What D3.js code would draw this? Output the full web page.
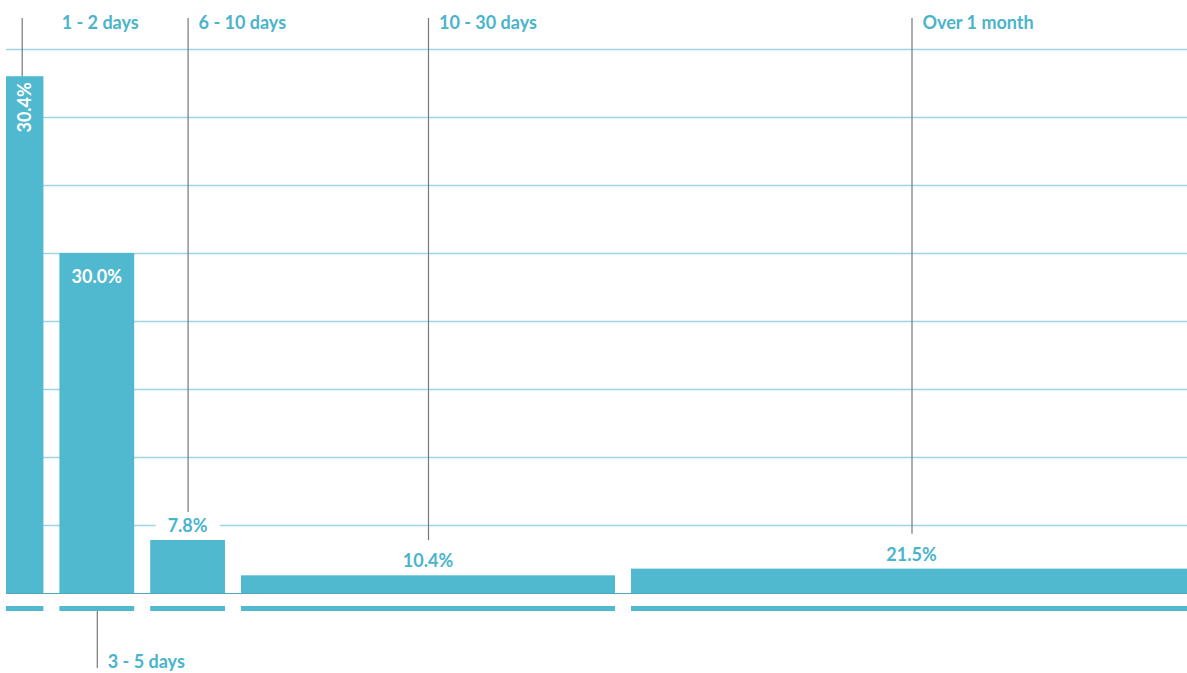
<!DOCTYPE html>
<html>
<head>
<meta charset="utf-8">
<script src="https://cdn.jsdelivr.net/npm/d3@7"></script>
<style>
  html, body { margin: 0; padding: 0; background: #fff; }
  svg { display: block; font-family: Lato, "Open Sans", sans-serif; }
</style>
</head>
<body>
<svg id="chart" width="1187" height="673"></svg>
<script>
// ---- data ----
const categories = ["1 - 2 days", "3 - 5 days", "6 - 10 days", "10 - 30 days", "Over 1 month"];
const shares = [30.4, 30.0, 7.8, 10.4, 21.5];          // % of total
const binDays = [2, 3, 5, 20, 30];                      // days covered by each bin
const binWidths = [1, 2, 2, 10, 15];                    // relative display width of each bin
const gridTicks = [0, 2, 4, 6, 8, 10, 12, 14, 16];      // share per day

// ---- layout ----
const W = 1187, H = 673;
const gap = 16;
const baseY = 593;
const barColor = "#50b8cf";
const textColor = "#4ab4cb";
const gridColor = "#9fd5e1";
const leaderColor = "#777777";

const svg = d3.select("#chart");

const cum = [];
binWidths.reduce((a, w, i) => { cum[i] = a; return a + w; }, 0);
const total = d3.sum(binWidths);

const x = d3.scaleLinear().domain([0, total]).range([6, 1128]);
const y = d3.scaleLinear().domain([0, 16]).range([baseY, 49]);

const data = categories.map((c, i) => {
  const x0 = x(cum[i]) + i * gap;
  const x1 = x(cum[i] + binWidths[i]) + i * gap;
  const v = shares[i] / binDays[i];
  return { c, i, share: shares[i], x0, x1, cx: (x0 + x1) / 2, top: y(v) };
});

// gridlines
svg.append("g").selectAll("line").data(gridTicks.slice(1)).join("line")
  .attr("x1", 6).attr("x2", W)
  .attr("y1", d => Math.round(y(d)) + 0.5).attr("y2", d => Math.round(y(d)) + 0.5)
  .attr("stroke", gridColor).attr("stroke-width", 1.5);

// baseline
svg.append("line")
  .attr("x1", 6).attr("x2", W).attr("y1", baseY + 0.5).attr("y2", baseY + 0.5)
  .attr("stroke", "#4ea9be").attr("stroke-width", 1);

// bars
svg.append("g").selectAll("rect").data(data).join("rect")
  .attr("x", d => d.x0).attr("width", d => d.x1 - d.x0)
  .attr("y", d => d.top).attr("height", d => baseY - d.top)
  .attr("fill", barColor);

// under-bars (bin extents)
svg.append("g").selectAll("rect").data(data).join("rect")
  .attr("x", d => d.x0).attr("width", d => d.x1 - d.x0)
  .attr("y", 606).attr("height", 5)
  .attr("fill", barColor);

// leaders + category labels
const inside = d => d.i <= 1;        // value label drawn inside the bar
const bottomLabel = d => d.i === 1;  // category label below the chart

data.forEach(d => {
  const lx = d.i === 0 ? d.cx - 3 : d.cx;
  if (bottomLabel(d)) {
    svg.append("line").attr("x1", lx + 0.5).attr("x2", lx + 0.5)
      .attr("y1", 611).attr("y2", 668)
      .attr("stroke", leaderColor).attr("stroke-width", 1.2);
    svg.append("text").attr("x", lx + 11).attr("y", 668)
      .attr("fill", textColor).attr("font-size", 18).attr("font-weight", 700)
      .text(d.c);
  } else {
    let yEnd;
    if (inside(d)) yEnd = d.top;
    else yEnd = d.top - 8 - (d.i === 2 ? 19 : 27);
    svg.append("line").attr("x1", lx + 0.5).attr("x2", lx + 0.5)
      .attr("y1", 18).attr("y2", yEnd)
      .attr("stroke", leaderColor).attr("stroke-width", 1.2);
    svg.append("text").attr("x", lx + (d.i === 0 ? 40 : 11)).attr("y", 29)
      .attr("fill", textColor).attr("font-size", 18).attr("font-weight", 700)
      .text(d.c);
  }
});

// value labels
const fmt = v => v.toFixed(1) + "%";
data.forEach(d => {
  if (d.i === 0) {
    svg.append("text")
      .attr("transform", `translate(${d.cx + 6.5},${d.top + 6}) rotate(-90)`)
      .attr("text-anchor", "end")
      .attr("fill", "#fff").attr("font-size", 18).attr("font-weight", 700)
      .text(fmt(d.share));
  } else if (d.i === 1) {
    svg.append("text")
      .attr("x", d.cx).attr("y", d.top + 30)
      .attr("text-anchor", "middle")
      .attr("fill", "#fff").attr("font-size", 18).attr("font-weight", 700)
      .text(fmt(d.share));
  } else {
    const g = svg.append("g");
    const t = g.append("text")
      .attr("x", d.cx).attr("y", d.top - 8)
      .attr("text-anchor", "middle")
      .attr("fill", textColor).attr("font-size", 18).attr("font-weight", 700)
      .text(fmt(d.share));
    const bb = t.node().getBBox();
    g.insert("rect", "text")
      .attr("x", bb.x - 12).attr("width", bb.width + 24)
      .attr("y", bb.y - 2).attr("height", bb.height + 2)
      .attr("fill", "#fff");
  }
});
</script>
</body>
</html>
